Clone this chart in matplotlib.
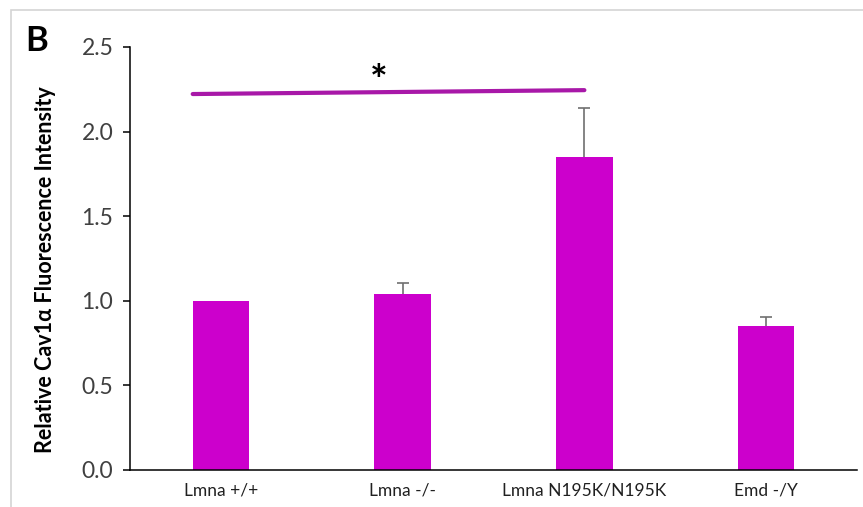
import matplotlib
matplotlib.use("Agg")
import matplotlib.pyplot as plt
from matplotlib.patches import Rectangle

plt.rcParams['font.family'] = ['Lato', 'DejaVu Sans']

# data
groups = ['Lmna +/+', 'Lmna -/-', 'Lmna N195K/N195K', 'Emd -/Y']
means = [1.0, 1.042, 1.85, 0.851]
sem = [0.0, 0.063, 0.29, 0.055]
yticks = [0.0, 0.5, 1.0, 1.5, 2.0, 2.5]
sig_pair = (0, 2)
sig_y = (2.222, 2.245)

bar_col = '#CC00CC'

fig = plt.figure(figsize=(8.63, 5.07), dpi=100)
ax = fig.add_axes([130/863, 1-470/507, 727/863, 423/507])

x = list(range(len(groups)))
ax.bar(x, means, width=0.31, color=bar_col, zorder=2)

# upward-only error bars, skip the ones with no error
ex = [i for i in x if sem[i] > 0]
eb = ax.errorbar(ex, [means[i] for i in ex],
                 yerr=[[0]*len(ex), [sem[i] for i in ex]], fmt='none',
                 ecolor='#707070', elinewidth=1.2, capsize=4.5, capthick=1.2,
                 zorder=3)
eb[1][0].set_visible(False)   # lower caps

# significance bar
ax.plot([sig_pair[0]-0.155, sig_pair[1]], sig_y, color='#A818A8', lw=3,
        solid_capstyle='round', zorder=4)
ax.text(0.87, 2.285, '*', ha='center', va='center', fontsize=30,
        fontweight='bold', color='black')

ax.set_xlim(-0.5, 3.5)
ax.set_ylim(0, 2.5)
ax.set_yticks(yticks)
ax.set_yticklabels(['%.1f' % v for v in yticks])
ax.set_xticks(x)
ax.set_xticklabels(groups)
ax.tick_params(axis='y', direction='out', length=5, width=1.1,
               labelsize=16.5, labelcolor='#404040', pad=7)
ax.tick_params(axis='x', length=0, labelsize=12.5, labelcolor='#202020', pad=9)

for s in ['top', 'right']:
    ax.spines[s].set_visible(False)
for s in ['left', 'bottom']:
    ax.spines[s].set_linewidth(1.1)

fig.text(45/863, 1-270/507, 'Relative Cav1\u03b1 Fluorescence Intensity',
         rotation=90, ha='center', va='center', fontsize=15.5, fontweight='bold')
fig.text(25/863, 1-41/507, 'B', ha='left', va='center', fontsize=25,
         fontweight='bold')

# light frame of the panel
fig.patches.append(Rectangle((11/863, -0.1), 1.2, 1.1 - 10/507,
                             transform=fig.transFigure, fill=False,
                             edgecolor='#d4d4d4', lw=1.2))

fig.savefig('out.png', dpi=100)
